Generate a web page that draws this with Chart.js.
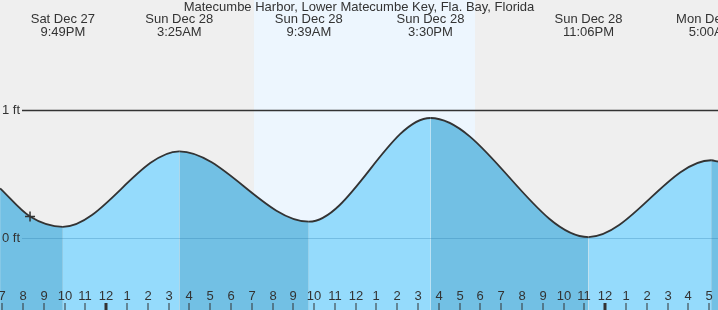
<!DOCTYPE html>
<html>
<head>
<meta charset="utf-8">
<script src="https://cdn.jsdelivr.net/npm/chart.js@4.4.0/dist/chart.umd.min.js"></script>
<style>
  html, body { margin: 0; padding: 0; background: #efefef; }
  canvas { display: block; }
</style>
</head>
<body>
<canvas id="tideChart" width="718" height="310"></canvas>
<script>
const TITLE = 'Matecumbe Harbor, Lower Matecumbe Key, Fla. Bay, Florida';

// hours counted from midnight Sun Dec 28, heights in ft
const curveHours = [-5.2, -3.76, -2.18, 3.42, 9.65, 15.5, 23.1, 29.0, 29.33];
const curveFeet = [0.39, 0.17, 0.09, 0.68, 0.13, 0.94, 0.01, 0.61, 0.60];

const extremaHours = [-2.18, 3.42, 9.65, 15.5, 23.1, 29.0];
const extremaDays = ['Sat Dec 27', 'Sun Dec 28', 'Sun Dec 28', 'Sun Dec 28', 'Sun Dec 28', 'Mon Dec 29'];
const extremaTimes = ['9:49PM', '3:25AM', '9:39AM', '3:30PM', '11:06PM', '5:00AM'];

const nowHour = -3.76;
const nowFeet = 0.17;

const daylight = [7.01, 17.64];

const tickHours = [-5, -4, -3, -2, -1, 0, 1, 2, 3, 4, 5, 6, 7, 8, 9, 10, 11, 12,
  13, 14, 15, 16, 17, 18, 19, 20, 21, 22, 23, 24, 25, 26, 27, 28, 29];
const tickLabels = ['7', '8', '9', '10', '11', '12', '1', '2', '3', '4', '5', '6', '7', '8', '9', '10', '11', '12',
  '1', '2', '3', '4', '5', '6', '7', '8', '9', '10', '11', '12', '1', '2', '3', '4', '5'];
const midnightHours = [0, 24];

const levelFeet = [1, 0];
const levelLabels = ['1 ft', '0 ft'];

const LIGHT = '#95dbfc';
const DARK = '#72c0e4';
const TEXT = '#333';
const FONT = '13px "Liberation Sans", Arial, sans-serif';

const backdrop = {
  id: 'backdrop',
  beforeDraw(chart) {
    const { ctx, scales: { x } } = chart;
    ctx.save();
    ctx.fillStyle = '#efefef';
    ctx.fillRect(0, 0, chart.width, chart.height);
    const x0 = x.getPixelForValue(daylight[0]);
    const x1 = x.getPixelForValue(daylight[1]);
    ctx.fillStyle = '#edf6fe';
    ctx.fillRect(x0, 0, x1 - x0, chart.height);
    ctx.restore();
  },
  beforeDatasetsDraw(chart) {
    const { ctx, scales: { y } } = chart;
    const py = Math.round(y.getPixelForValue(levelFeet[0])) + 0.5;
    ctx.save();
    ctx.strokeStyle = '#333';
    ctx.lineWidth = 1.5;
    ctx.beginPath();
    ctx.moveTo(22, py);
    ctx.lineTo(chart.width, py);
    ctx.stroke();
    ctx.restore();
  },
  afterDatasetsDraw(chart) {
    const { ctx, scales: { x, y } } = chart;
    ctx.save();
    // zero line over the water
    const py = Math.round(y.getPixelForValue(levelFeet[1])) + 0.5;
    ctx.strokeStyle = 'rgba(40, 120, 170, 0.3)';
    ctx.lineWidth = 1;
    ctx.beginPath();
    ctx.moveTo(22, py);
    ctx.lineTo(chart.width, py);
    ctx.stroke();

    ctx.font = FONT;
    ctx.fillStyle = TEXT;
    ctx.textBaseline = 'middle';
    ctx.textAlign = 'left';
    levelFeet.forEach((v, i) => {
      ctx.fillText(levelLabels[i], 2, y.getPixelForValue(v));
    });

    // title and high / low labels
    ctx.textAlign = 'center';
    ctx.fillText(TITLE, chart.width / 2, 7);
    extremaHours.forEach((h, i) => {
      const px = x.getPixelForValue(h);
      ctx.fillText(extremaDays[i], px, 19);
      ctx.fillText(extremaTimes[i], px, 32);
    });

    // hour ticks along the bottom
    tickHours.forEach((h, i) => {
      const px = Math.round(x.getPixelForValue(h)) - 2;
      ctx.fillText(tickLabels[i], px, 296);
      if (midnightHours.includes(h)) {
        ctx.fillRect(px - 1.5, 303, 3, 7);
      } else {
        ctx.fillRect(px - 0.5, 303, 1, 7);
      }
    });
    ctx.restore();
  }
};

new Chart(document.getElementById('tideChart'), {
  type: 'line',
  data: {
    datasets: [
      {
        data: curveHours.map((h, i) => ({ x: h, y: curveFeet[i] })),
        order: 1,
        borderColor: '#333',
        borderWidth: 1.8,
        pointRadius: 0,
        cubicInterpolationMode: 'monotone',
        fill: 'start',
        backgroundColor: LIGHT,
        segment: {
          backgroundColor: c => c.p1.parsed.y >= c.p0.parsed.y ? LIGHT : DARK
        }
      },
      {
        type: 'scatter',
        data: [{ x: nowHour, y: nowFeet }],
        order: 0,
        pointStyle: 'cross',
        pointRadius: 5,
        borderColor: '#333',
        borderWidth: 1.5
      }
    ]
  },
  options: {
    responsive: false,
    animation: false,
    events: [],
    layout: { padding: 0, autoPadding: false },
    plugins: { legend: { display: false }, tooltip: { enabled: false } },
    scales: {
      x: { type: 'linear', min: -5.204, max: 29.33, display: false },
      y: { min: -0.56, max: 1.862, display: false }
    }
  },
  plugins: [backdrop]
});
</script>
</body>
</html>
